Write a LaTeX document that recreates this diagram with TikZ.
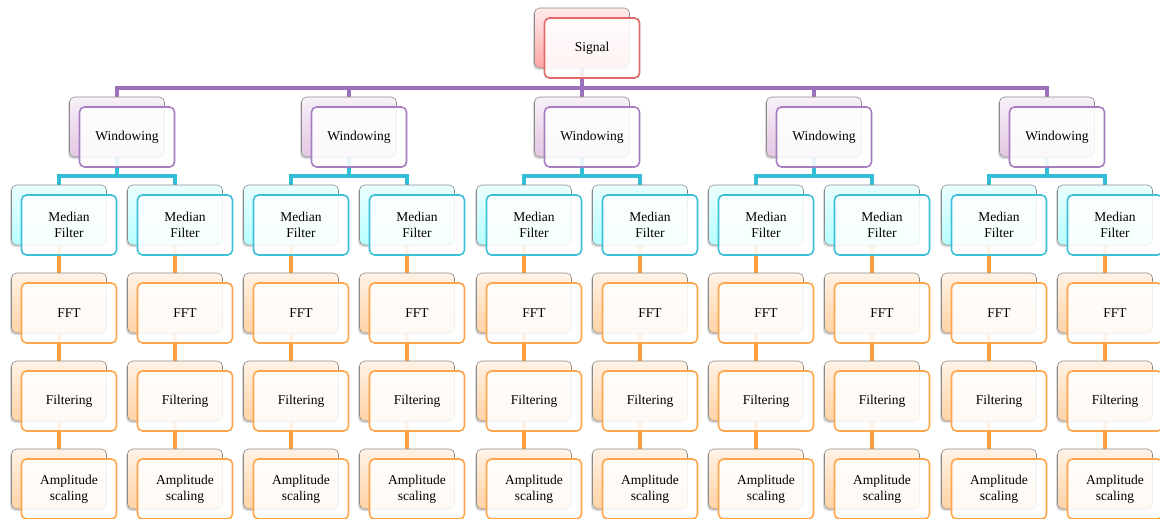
\documentclass[tikz,border=0pt]{standalone}
\usepackage{fontspec}
\setmainfont{Liberation Serif}
\usetikzlibrary{shadows,backgrounds}
\definecolor{pline}{HTML}{9D6FB8}
\definecolor{cline}{HTML}{33BDD6}
\definecolor{oline}{HTML}{FFA040}
\definecolor{redB}{HTML}{E26A6A}
\definecolor{purB}{HTML}{A67DC0}
\definecolor{cyaB}{HTML}{3EBFD8}
\definecolor{oraB}{HTML}{FFA64D}
\tikzset{
  box/.style={rectangle, rounded corners=5pt, minimum width=95pt, minimum height=60pt,
    inner sep=0pt, align=center, font=\fontsize{13.5}{16}\selectfont},
  backbox/.style={box, draw=black!45, line width=0.6pt,
    drop shadow={shadow xshift=-1.5pt, shadow yshift=-2pt, opacity=0.3}},
  frontbox/.style={box, fill=white, fill opacity=0.88, text opacity=1, line width=1.6pt},
  redback/.style={backbox, top color=red!8, bottom color=red!35!white},
  redfront/.style={frontbox, draw=redB},
  purback/.style={backbox, top color=violet!6, bottom color=violet!22!white},
  purfront/.style={frontbox, draw=purB},
  cyaback/.style={backbox, top color=cyan!8, bottom color=cyan!28!white},
  cyafront/.style={frontbox, draw=cyaB},
  oraback/.style={backbox, top color=orange!10, bottom color=orange!35!white},
  orafront/.style={frontbox, draw=oraB},
  pconn/.style={draw=pline, line width=4pt},
  cconn/.style={draw=cline, line width=4pt},
  oconn/.style={draw=oline, line width=4pt},
}
\newcommand\pairbox[5]{%
  \node[#4back] (#1-b) at (#2,#3) {};
  \node[#4front] (#1) at (#2+10,#3+10) {#5};
}
\begin{document}
\begin{tikzpicture}[x=1pt,y=-1pt]
\useasboundingbox (0,0) rectangle (1160,519);
\pairbox{sig}{582}{38}{red}{Signal}
\foreach \w/\xa/\xb [count=\i] in {117/59/175, 349/291/407, 582/524/640, 814/756/872, 1047/989/1105}{
  \pairbox{win\i}{\w}{127}{pur}{Windowing}
  \pairbox{med\i a}{\xa}{215}{cya}{Median\\Filter}
  \pairbox{med\i b}{\xb}{215}{cya}{Median\\Filter}
  \pairbox{fft\i a}{\xa}{303}{ora}{FFT}
  \pairbox{fft\i b}{\xb}{303}{ora}{FFT}
  \pairbox{fil\i a}{\xa}{391}{ora}{Filtering}
  \pairbox{fil\i b}{\xb}{391}{ora}{Filtering}
  \pairbox{amp\i a}{\xa}{479}{ora}{Amplitude\\scaling}
  \pairbox{amp\i b}{\xb}{479}{ora}{Amplitude\\scaling}
}
\begin{pgfonlayer}{background}
\foreach \i in {1,...,5}{
  \draw[pconn] (sig-b.south) -- ++(0,20) -| (win\i-b.north);
  \draw[cconn] (win\i-b.south) -- ++(0,19) -| (med\i a-b.north);
  \draw[cconn] (win\i-b.south) -- ++(0,19) -| (med\i b-b.north);
  \foreach \s in {a,b}{
    \draw[oconn] (med\i\s-b.south) -- (fft\i\s-b.north);
    \draw[oconn] (fft\i\s-b.south) -- (fil\i\s-b.north);
    \draw[oconn] (fil\i\s-b.south) -- (amp\i\s-b.north);
  }
}
\end{pgfonlayer}
\end{tikzpicture}
\end{document}
